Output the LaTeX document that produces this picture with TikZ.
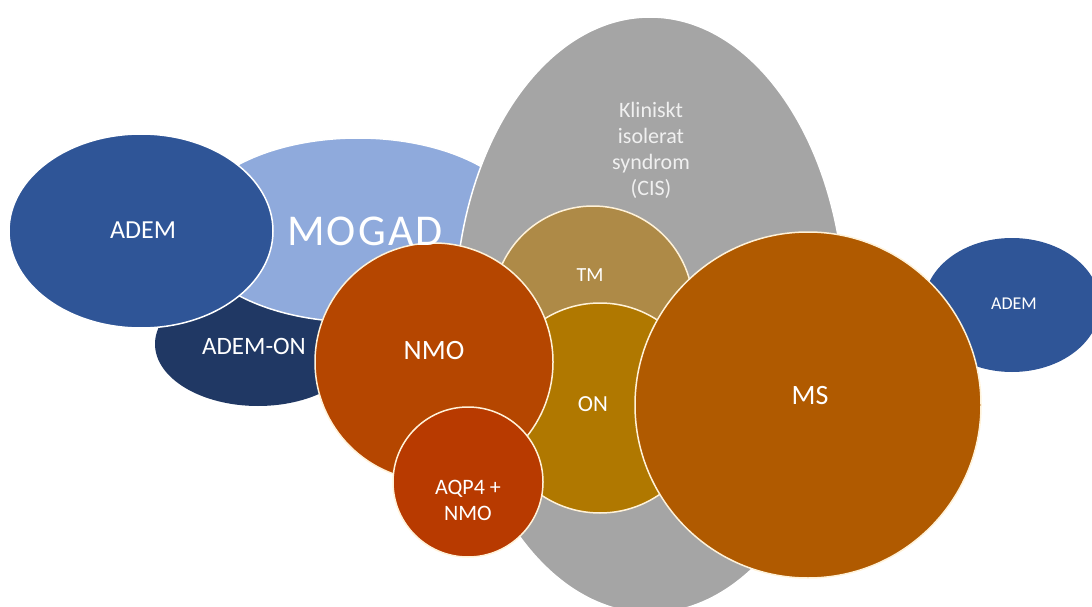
\documentclass[tikz,border=0pt]{standalone}
\usepackage{fontspec}
\setmainfont{Carlito}
\newfontfamily\widefont[LetterSpace=5]{Carlito}
\usepackage{tikz}
\definecolor{ademblue}{HTML}{2F5597}
\definecolor{mogadblue}{HTML}{8FAADC}
\definecolor{adnavy}{HTML}{203864}
\definecolor{cisgrey}{HTML}{A5A5A5}
\definecolor{tmtan}{HTML}{AE8A47}
\definecolor{ongold}{HTML}{B07800}
\definecolor{nmored}{HTML}{B54600}
\definecolor{aqpred}{HTML}{B83A00}
\definecolor{msorange}{HTML}{B05A00}
\definecolor{rimcream}{HTML}{FFF2D9}

\begin{document}
\begin{tikzpicture}[x=1pt, y=-1pt,
  rim/.style={draw=white, line width=1.5pt},
  orim/.style={draw=rimcream, line width=1.5pt},
  lbl/.style={text=white, align=center, inner sep=0pt}]
\useasboundingbox (0,0) rectangle (1092,607);
\fill [adnavy] (258,344) ellipse [x radius=103pt, y radius=62pt];
\filldraw [fill=mogadblue, rim] (358,230) ellipse [x radius=170pt, y radius=92pt];
\filldraw [fill=ademblue, rim] (141,231) ellipse [x radius=132pt, y radius=97pt];
\filldraw [fill=cisgrey, rim] (650,315) ellipse [x radius=195pt, y radius=298pt];
\filldraw [fill=tmtan, orim] (593,306) circle [radius=100pt];
\filldraw [fill=ongold, orim] (600,408) circle [radius=105pt];
\filldraw [fill=nmored, orim] (434,362) circle [radius=119pt];
\filldraw [fill=aqpred, orim] (468,482) circle [radius=75pt];
\fill [ademblue] (1012,305) ellipse [x radius=88pt, y radius=67pt];
\filldraw [fill=msorange, orim] (808,405) circle [radius=173pt];
\node [lbl, font=\fontsize{26}{31}\selectfont] (ademL) at (143,230) {ADEM};
\node [lbl, font=\widefont\fontsize{44}{52}\selectfont] (mogad) at (365,231) {MOGAD};
\node [lbl, font=\fontsize{25}{30}\selectfont] (ademon) at (254,346) {ADEM-ON};
\node [lbl, text=white!94!black, font=\fontsize{22}{26}\selectfont] (cis) at (651,150) {Kliniskt\\isolerat\\syndrom\\(CIS)};
\node [lbl, font=\fontsize{20}{24}\selectfont] (tm) at (590,275) {TM};
\node [lbl, font=\fontsize{23}{28}\selectfont] (on) at (593,404) {ON};
\node [lbl, font=\fontsize{28}{34}\selectfont] (nmo) at (434,351) {NMO};
\node [lbl, font=\fontsize{22}{26}\selectfont] (aqp) at (468,500) {AQP4 +\\NMO};
\node [lbl, font=\fontsize{28}{34}\selectfont] (ms) at (810,396) {MS};
\node [lbl, font=\fontsize{18}{22}\selectfont] (ademR) at (1014,304) {ADEM};
\end{tikzpicture}
\end{document}
